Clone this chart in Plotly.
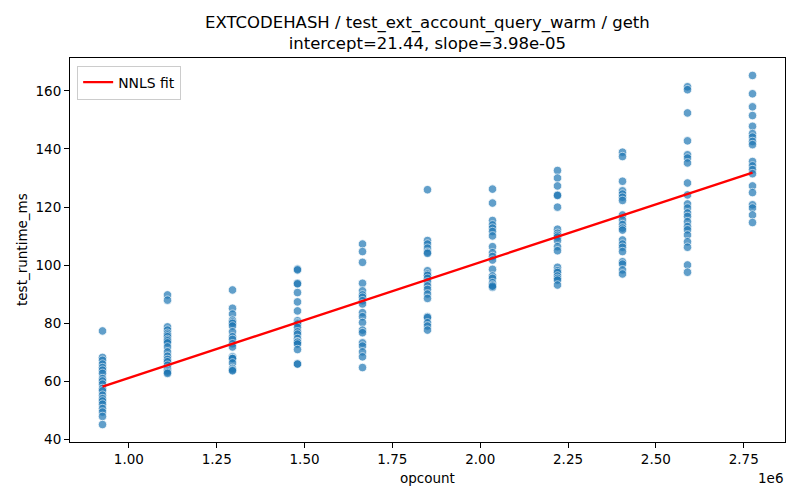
import numpy as np
import plotly.graph_objects as go

# opcount levels (x) and measured runtimes per level (y)
opcounts = [925000, 1110000, 1295000, 1480000, 1665000, 1850000,
            2035000, 2220000, 2405000, 2590000, 2775000]

runtimes = [
    [77.4, 68.3, 67.3, 66.0, 64.8, 63.9, 62.8, 61.0, 60.2, 59.1,
     57.6, 56.8, 55.3, 54.1, 53.3, 52.2, 50.7, 49.5, 48.0, 45.2],
    [89.8, 88.0, 78.8, 77.7, 76.6, 76.0, 75.4, 74.5, 74.0, 73.3,
     71.9, 70.2, 68.7, 67.6, 66.8, 65.6, 64.5, 63.7, 63.2, 62.8],
    [91.5, 85.2, 83.2, 81.1, 80.5, 80.0, 79.1, 77.1, 75.4, 74.5,
     73.0, 71.9, 68.5, 68.0, 67.9, 66.4, 64.5, 64.0, 63.7],
    [98.7, 98.4, 93.8, 93.6, 90.6, 87.4, 84.3, 80.9, 80.2, 79.8,
     78.6, 77.1, 76.3, 74.8, 73.7, 73.5, 72.9, 71.0, 66.1, 66.0],
    [107.3, 104.7, 101.0, 93.8, 91.2, 89.8, 89.0, 87.8, 86.7, 83.7,
     82.3, 80.3, 77.7, 76.8, 73.3, 72.2, 70.2, 68.5, 64.8],
    [126.0, 108.5, 107.3, 105.9, 104.5, 104.1, 98.1, 97.0, 96.5, 95.5,
     94.3, 92.9, 91.7, 90.1, 88.6, 82.3, 82.0, 80.2, 79.1, 77.7],
    [126.2, 121.4, 115.4, 113.9, 112.8, 111.6, 110.1, 106.4, 104.3, 103.0,
     101.8, 98.6, 96.3, 95.5, 94.0, 93.2, 92.4, 92.8],
    [132.6, 130.0, 127.3, 124.2, 124.0, 120.0, 112.4, 111.0, 110.3, 109.7,
     108.5, 106.4, 105.0, 99.3, 98.1, 97.5, 96.3, 95.5, 94.9, 93.2],
    [138.9, 137.4, 128.9, 125.6, 124.5, 123.4, 122.3, 117.3, 115.6, 114.0,
     112.8, 112.1, 108.7, 107.3, 106.2, 104.7, 101.2, 100.4, 98.4, 97.0],
    [161.4, 160.4, 152.4, 142.8, 138.0, 136.9, 135.2, 128.3, 124.2, 121.1,
     119.7, 118.0, 116.8, 115.0, 113.3, 112.2, 110.4, 108.1, 106.2, 100.1, 97.6],
    [165.3, 159.0, 154.5, 151.5, 147.8, 145.3, 144.1, 142.6, 141.5, 135.7,
     134.2, 132.9, 131.5, 127.3, 125.0, 120.8, 119.7, 117.3, 114.7],
]

intercept = 21.44
slope = 3.98e-05

x_tickvals = [1000000, 1250000, 1500000, 1750000, 2000000, 2250000, 2500000, 2750000]
x_ticktext = ["1.00", "1.25", "1.50", "1.75", "2.00", "2.25", "2.50", "2.75"]
y_tickvals = [40, 60, 80, 100, 120, 140, 160]

title_text = "EXTCODEHASH / test_ext_account_query_warm / geth<br>intercept=21.44, slope=3.98e-05"

xs = []
ys = []
for oc, vals in zip(opcounts, runtimes):
    xs += [oc] * len(vals)
    ys += vals
xs = np.array(xs, dtype=float)
ys = np.array(ys, dtype=float)

fit_x = np.array([xs.min(), xs.max()])
fit_y = intercept + slope * fit_x

# matplotlib-style 5% margins
xpad = (xs.max() - xs.min()) * 0.05
ypad = (ys.max() - ys.min()) * 0.05

fig = go.Figure()
fig.add_trace(go.Scatter(
    x=xs, y=ys, mode="markers", showlegend=False,
    marker=dict(size=8.5, color="#1f77b4", opacity=0.7,
                line=dict(color="white", width=0.8)),
))
fig.add_trace(go.Scatter(
    x=fit_x, y=fit_y, mode="lines", name="NNLS fit",
    line=dict(color="red", width=2.3),
))

axis_common = dict(
    showline=True, linecolor="black", linewidth=1, mirror=True,
    ticks="outside", ticklen=5, tickcolor="black", showgrid=False,
    zeroline=False, tickfont=dict(size=13.5, color="black"), automargin=False,
)
fig.update_xaxes(
    range=[xs.min() - xpad, xs.max() + xpad],
    tickvals=x_tickvals, ticktext=x_ticktext,
    **axis_common,
)
fig.update_yaxes(
    range=[ys.min() - ypad, ys.max() + ypad],
    tickvals=y_tickvals,
    **axis_common,
)

# page body has an 8px default margin, so offsets are compensated here
lbl = dict(size=13.5, color="black")
fig.update_layout(
    width=800, height=500,
    margin=dict(l=62, r=23, t=50, b=66),
    plot_bgcolor="white", paper_bgcolor="white",
    font=dict(family="DejaVu Sans", color="black"),
    legend=dict(
        x=0.01, y=0.98, xanchor="left", yanchor="top",
        bordercolor="#cccccc", borderwidth=1, bgcolor="rgba(255,255,255,0.8)",
        font=dict(size=13.9),
    ),
    annotations=[
        dict(text=title_text, x=0.5, y=1, xref="paper", yref="paper",
             xanchor="center", yanchor="bottom", yshift=3, showarrow=False,
             font=dict(size=16.5, color="black")),
        dict(text="opcount", x=0.5, y=0, xref="paper", yref="paper",
             xanchor="center", yanchor="middle", yshift=-36, showarrow=False,
             font=lbl),
        dict(text="test_runtime_ms", x=0, y=0.5, xref="paper", yref="paper",
             xanchor="center", yanchor="middle", xshift=-48, textangle=-90,
             showarrow=False, font=lbl),
        dict(text="1e6", x=1, y=0, xref="paper", yref="paper",
             xanchor="right", yanchor="middle", yshift=-36, showarrow=False,
             font=lbl),
    ],
)

fig.write_html("out.html")
